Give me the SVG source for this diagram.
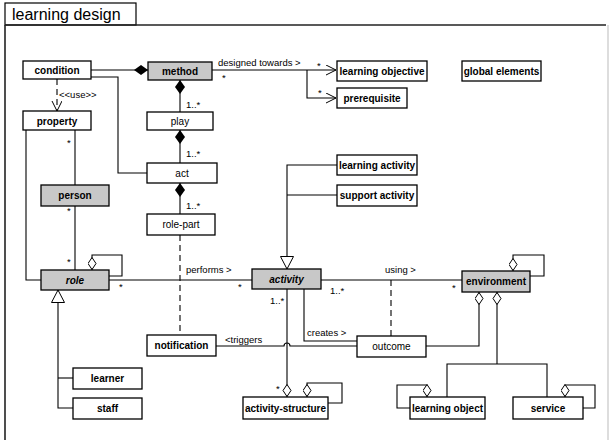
<svg xmlns="http://www.w3.org/2000/svg" width="615" height="440" viewBox="0 0 615 440">
<style>
.box{fill:#fff;stroke:#000;stroke-width:1.3}
.gray{fill:#c8c8c8}
.lbl{font-family:"Liberation Sans",Arial,sans-serif;font-size:10px;font-weight:bold;text-anchor:middle;fill:#000}
.reg{font-weight:normal}
.it{font-style:italic}
.edge{fill:none;stroke:#000;stroke-width:1.1}
.dash{stroke-dasharray:6,4}
.el{font-family:"Liberation Sans",Arial,sans-serif;font-size:9.5px;fill:#000}
</style>
<defs>
<marker id="dF" markerUnits="userSpaceOnUse" markerWidth="16" markerHeight="12" refX="0" refY="5" orient="auto"><path d="M0,5 L7,0 L14,5 L7,10 z" fill="#000"/></marker>
<marker id="dH" markerUnits="userSpaceOnUse" markerWidth="16" markerHeight="12" refX="0" refY="4.5" orient="auto"><path d="M0.5,4.5 L6.5,0.5 L12.5,4.5 L6.5,8.5 z" fill="#fff" stroke="#000" stroke-width="1"/></marker>
<marker id="dHe" markerUnits="userSpaceOnUse" markerWidth="16" markerHeight="12" refX="13" refY="4.5" orient="auto"><path d="M0.5,4.5 L6.5,0.5 L12.5,4.5 L6.5,8.5 z" fill="#fff" stroke="#000" stroke-width="1"/></marker>
<marker id="triS" markerUnits="userSpaceOnUse" markerWidth="16" markerHeight="16" refX="0.5" refY="7" orient="auto"><path d="M0.5,7 L13,0.5 L13,13.5 z" fill="#fff" stroke="#000" stroke-width="1"/></marker>
<marker id="triE" markerUnits="userSpaceOnUse" markerWidth="16" markerHeight="16" refX="13" refY="7" orient="auto"><path d="M13,7 L0.5,0.5 L0.5,13.5 z" fill="#fff" stroke="#000" stroke-width="1"/></marker>
<marker id="arr" markerUnits="userSpaceOnUse" markerWidth="12" markerHeight="12" refX="10" refY="5" orient="auto"><path d="M0,0 L10,5 L0,10" fill="none" stroke="#000" stroke-width="1"/></marker>
</defs>
<rect width="615" height="440" fill="#fff"/>
<g id="frame">
<rect x="5" y="3" width="131" height="22" fill="#fff" stroke="#000" stroke-width="1.2"/>
<text x="12" y="20" font-family="'Liberation Sans',Arial,sans-serif" font-size="16" fill="#000">learning design</text>
<path d="M5,25 H606" stroke="#222" stroke-width="1.6" fill="none"/>
<path d="M5,25 V440" stroke="#222" stroke-width="1.6" fill="none"/>
<path d="M608,25 V440" stroke="#bbb" stroke-width="1" fill="none"/>
</g>
<g id="connectors">
<path class="edge" d="M148,70 H91" marker-start="url(#dF)"/>
<path class="edge" d="M91,77 H118 V173 H147"/>
<path class="edge dash" d="M57,79 V111" marker-end="url(#arr)"/>
<text class="el" x="59" y="98" font-size="8.5">&lt;&lt;use&gt;&gt;</text>
<path class="edge" d="M180,80 V112" marker-start="url(#dF)"/>
<text class="el" x="186" y="108">1..*</text>
<path class="edge" d="M180,130 V163" marker-start="url(#dF)"/>
<text class="el" x="186" y="157">1..*</text>
<path class="edge" d="M180,183 V214" marker-start="url(#dF)"/>
<text class="el" x="186" y="209">1..*</text>
<path class="edge dash" d="M180,235 V335" stroke-width="1.4"/>
<path class="edge" d="M212,70 H336" marker-end="url(#arr)"/>
<text class="el" x="218" y="66">designed towards &gt;</text>
<text class="el" x="222" y="81">*</text>
<text class="el" x="317" y="69">*</text>
<path class="edge" d="M307,70 V98 H336" marker-end="url(#arr)"/>
<text class="el" x="318" y="96">*</text>
<path class="edge" d="M75,130 V185"/>
<text class="el" x="67" y="146">*</text>
<path class="edge" d="M75,206 V270"/>
<text class="el" x="67" y="214">*</text>
<text class="el" x="67" y="265">*</text>
<path class="edge" d="M26,130 V280 H41" stroke-width="2"/>
<path class="edge" d="M92,270 V255 H122 V276 H109" marker-start="url(#dH)"/>
<path class="edge" d="M109,280 H252"/>
<text class="el" x="186" y="273">performs &gt;</text>
<text class="el" x="119" y="290">*</text>
<text class="el" x="238" y="290">*</text>
<path class="edge" d="M58,290 V408 H73" marker-start="url(#triS)"/>
<path class="edge" d="M58,378 H73"/>
<path class="edge" d="M337,165 H287 V269" marker-end="url(#triE)"/>
<path class="edge" d="M337,195 H287"/>
<path class="edge" d="M321,280 H462"/>
<text class="el" x="385" y="273">using &gt;</text>
<text class="el" x="330" y="294">1..*</text>
<text class="el" x="452" y="291">*</text>
<path class="edge dash" d="M391,280 V336" stroke-width="1.3"/>
<path class="edge" d="M287,289 V397" marker-end="url(#dHe)"/>
<text class="el" x="270" y="304">1..*</text>
<text class="el" x="276" y="392">*</text>
<path class="edge" d="M216,346 H284 A3,3 0 0 1 290,346 H357"/>
<text class="el" x="225" y="343">&lt;triggers</text>
<path class="edge" d="M304,289 V341 H357"/>
<text class="el" x="307" y="336">creates &gt;</text>
<path class="edge" d="M426,346 H479 V292" marker-end="url(#dHe)"/>
<path class="edge" d="M497,292 V364" marker-start="url(#dH)"/>
<path class="edge" d="M447,397 V364 H547 V397"/>
<path class="edge" d="M513,271 V255 H544 V276 H530" marker-start="url(#dH)"/>
<path class="edge" d="M307,397 V383 H342 V403 H328" marker-start="url(#dH)"/>
<path class="edge" d="M427,397 V385 H397 V408 H410" marker-start="url(#dH)"/>
<path class="edge" d="M565,397 V385 H595 V408 H583" marker-start="url(#dH)"/>
</g>
<g id="condition"><rect class="box" x="23" y="61" width="68" height="18"/><text class="lbl" x="57" y="74">condition</text></g>
<g id="method"><rect class="box gray" x="148" y="62" width="64" height="18"/><text class="lbl" x="180" y="75">method</text></g>
<g id="learning-objective"><rect class="box" x="337" y="61" width="90" height="20"/><text class="lbl" x="382" y="75">learning objective</text></g>
<g id="global-elements"><rect class="box" x="462" y="61" width="79" height="20"/><text class="lbl" x="501.5" y="75">global elements</text></g>
<g id="prerequisite"><rect class="box" x="337" y="88" width="70" height="20"/><text class="lbl" x="372" y="102">prerequisite</text></g>
<g id="property"><rect class="box" x="23" y="111" width="68" height="19"/><text class="lbl" x="57" y="124.5">property</text></g>
<g id="play"><rect class="box" x="147" y="112" width="66" height="18"/><text class="lbl reg" x="180" y="125">play</text></g>
<g id="act"><rect class="box" x="147" y="163" width="70" height="20"/><text class="lbl reg" x="182" y="177">act</text></g>
<g id="person"><rect class="box gray" x="41" y="185" width="68" height="21"/><text class="lbl" x="75" y="199">person</text></g>
<g id="role-part"><rect class="box" x="147" y="214" width="68" height="21"/><text class="lbl reg" x="181" y="228">role-part</text></g>
<g id="learning-activity"><rect class="box" x="337" y="155" width="80" height="20"/><text class="lbl" x="377" y="169">learning activity</text></g>
<g id="support-activity"><rect class="box" x="337" y="185" width="80" height="21"/><text class="lbl" x="377" y="199">support activity</text></g>
<g id="role"><rect class="box gray" x="41" y="270" width="68" height="20"/><text class="lbl it" x="75" y="284">role</text></g>
<g id="activity"><rect class="box gray" x="252" y="269" width="69" height="20"/><text class="lbl it" x="286.5" y="283">activity</text></g>
<g id="environment"><rect class="box gray" x="462" y="271" width="68" height="21"/><text class="lbl" x="496" y="285">environment</text></g>
<g id="notification"><rect class="box" x="147" y="335" width="69" height="21"/><text class="lbl" x="181.5" y="349">notification</text></g>
<g id="outcome"><rect class="box" x="357" y="336" width="69" height="21"/><text class="lbl reg" x="391.5" y="350">outcome</text></g>
<g id="learner"><rect class="box" x="73" y="368" width="69" height="21"/><text class="lbl" x="107.5" y="382">learner</text></g>
<g id="staff"><rect class="box" x="73" y="398" width="69" height="21"/><text class="lbl" x="107.5" y="412">staff</text></g>
<g id="activity-structure"><rect class="box" x="243" y="397" width="85" height="22"/><text class="lbl" x="285.5" y="411.5">activity-structure</text></g>
<g id="learning-object"><rect class="box" x="410" y="397" width="75" height="22"/><text class="lbl" x="447.5" y="411.5">learning object</text></g>
<g id="service"><rect class="box" x="513" y="397" width="70" height="22"/><text class="lbl" x="548" y="411.5">service</text></g>
</svg>
